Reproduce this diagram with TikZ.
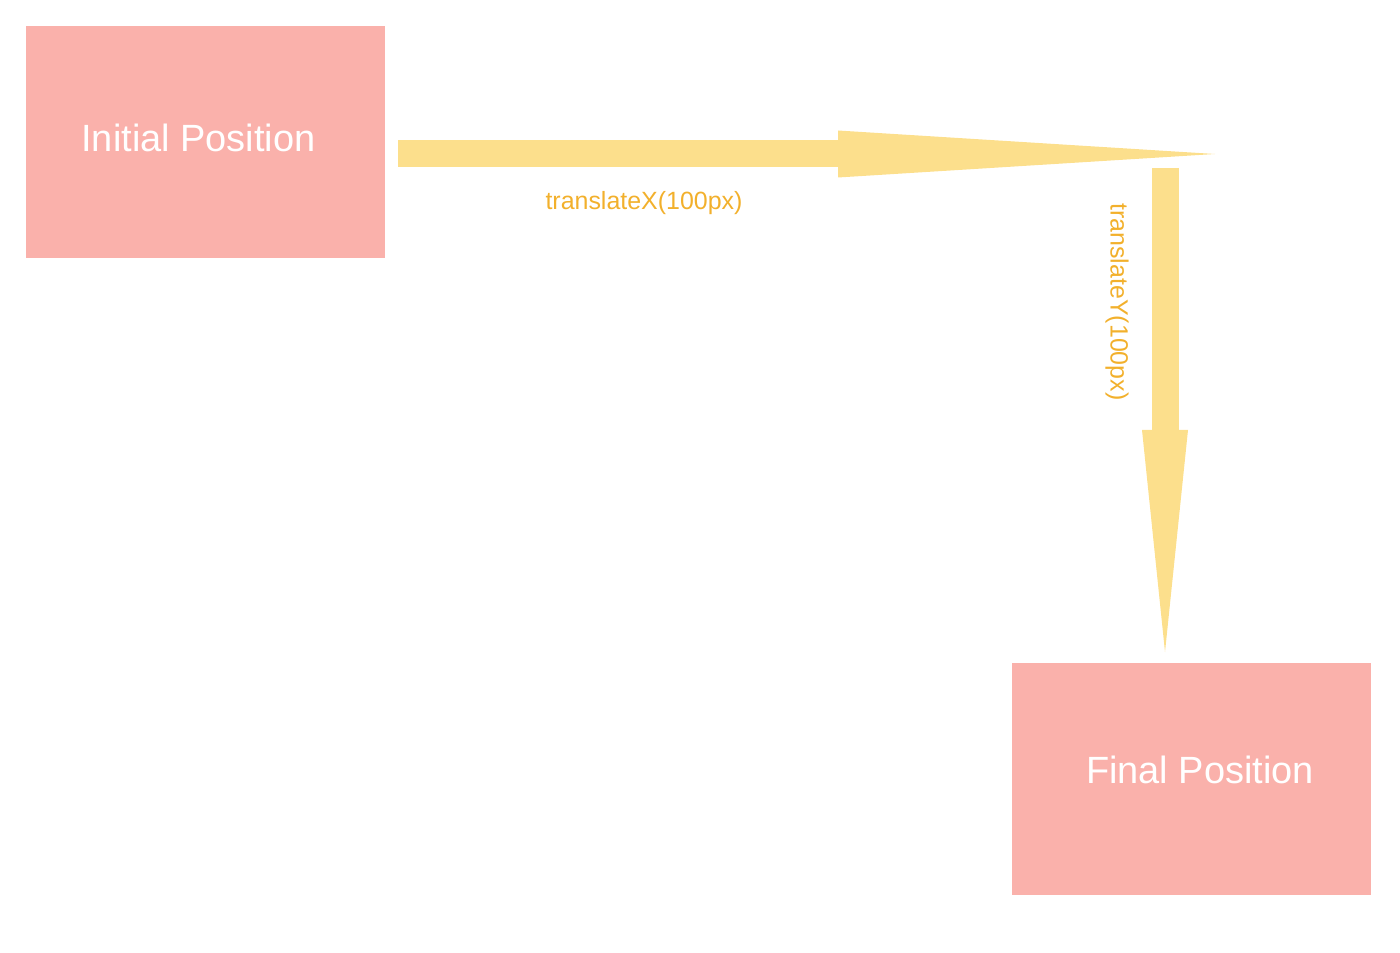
\documentclass[tikz,border=0pt]{standalone}
\usepackage{fontspec}
\setmainfont{Liberation Sans}
\usetikzlibrary{arrows.meta, positioning}
\definecolor{boxpink}{HTML}{FAB1AB}
\definecolor{arrowyel}{HTML}{FCDF8C}
\definecolor{labelorg}{HTML}{F2B02C}
\tikzset{
  posbox/.style={fill=boxpink, minimum width=3.59cm, minimum height=2.32cm},
  postext/.style={text=white, font=\fontsize{10.8}{13}\selectfont},
  lbl/.style={text=labelorg, font=\fontsize{7.1}{9}\selectfont},
  move/.style={draw=arrowyel, line width=0.27cm},
}
\begin{document}
\begin{tikzpicture}
  \useasboundingbox (0,0) rectangle (14,9.52);
  \node[posbox] (init) at (2.055,8.10) {};
  \node[posbox] (final) at (11.91,1.73) {};
  \node[postext] (initt) at ([shift={(-0.07,0.04)}]init.center) {Initial Position};
  \node[postext] (finalt) at ([shift={(0.09,0.09)}]final.center) {Final Position};
  % big yellow arrows
  \coordinate (xs) at (3.98,7.98);
  \coordinate (xe) at (12.15,7.98);
  \coordinate (ys) at (11.65,7.84);
  \coordinate (ye) at (11.65,3.00);
  \draw[move, -{Triangle[length=3.77cm, width=0.47cm, line width=0pt]}] (xs) -- (xe);
  \draw[move, -{Triangle[length=2.22cm, width=0.46cm, line width=0pt]}] (ys) -- (ye);
  \node[lbl] (tx) at (6.44,7.49) {translateX(100px)};
  \node[lbl, rotate=-90] (ty) at (11.17,6.50) {translateY(100px)};
\end{tikzpicture}
\end{document}
